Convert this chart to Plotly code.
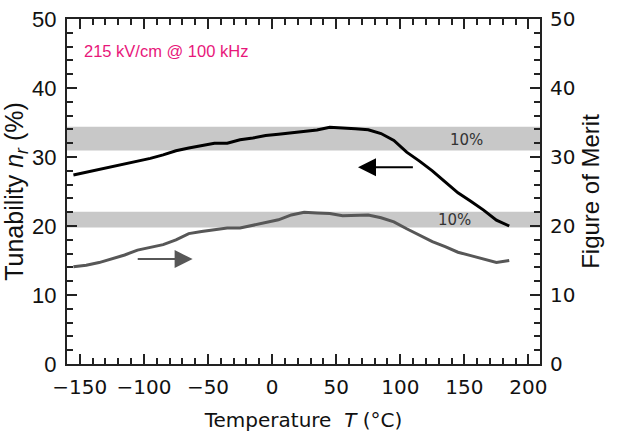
import plotly.graph_objects as go

# Data
temperature = [-155, -145, -135, -125, -115, -105, -95, -85, -75, -65, -55, -45, -35, -25, -15, -5,
               5, 15, 25, 35, 45, 55, 65, 75, 85, 95, 105, 115, 125, 135, 145, 155, 165, 175, 185]
tunability = [27.4, 27.8, 28.2, 28.6, 28.9, 29.4, 29.8, 30.3, 30.9, 31.3, 31.6, 32.0, 32.0, 32.5, 32.75, 33.1,
              33.3, 33.5, 33.7, 33.9, 34.3, 34.25, 34.1, 33.95, 33.4, 32.4, 30.7, 29.4, 28.0, 26.4, 24.8, 23.6, 22.3, 20.85, 20.0]
fom = [14.1, 14.3, 14.7, 15.2, 15.8, 16.5, 16.9, 17.3, 18.0, 18.9, 19.2, 19.4, 19.7, 19.7, 20.1, 20.4,
       20.9, 21.6, 22.0, 21.9, 21.8, 21.5, 21.6, 21.6, 21.2, 20.6, 19.6, 18.7, 17.75, 17.0, 16.2, 15.7, 15.2, 14.7, 15.0]

band_tun = [30.96, 34.4]
band_fom = [19.8, 22.05]
band_label = "10%"
condition = "215 kV/cm @ 100 kHz"

x_range = [-160, 209]
y_range = [0, 50]
x_ticks = [-150, -100, -50, 0, 50, 100, 150, 200]
x_ticktext = ["\u2212150", "\u2212100", "\u221250", "0", "50", "100", "150", "200"]
y_ticks = [0, 10, 20, 30, 40, 50]

fig = go.Figure()

# 10% bands
for lo, hi in (band_tun, band_fom):
    fig.add_shape(type="rect", xref="paper", yref="y", x0=0, x1=1, y0=lo, y1=hi,
                  fillcolor="#c8c8c8", line_width=0, layer="below")

fig.add_trace(go.Scatter(x=temperature, y=tunability, mode="lines",
                         line=dict(color="#000000", width=3), name="Tunability", showlegend=False))
fig.add_trace(go.Scatter(x=temperature, y=fom, mode="lines", yaxis="y2",
                         line=dict(color="#575757", width=3), name="Figure of Merit", showlegend=False))

axis_common = dict(showline=True, linecolor="#222222", linewidth=2, showgrid=False, zeroline=False,
                   ticks="inside", ticklen=10, tickwidth=1.5, tickcolor="#222222", automargin=False,
                   ticklabeloverflow="allow")

fig.update_layout(
    width=626, height=441,
    margin=dict(l=67, r=86, t=19, b=77),
    paper_bgcolor="white", plot_bgcolor="white",
    xaxis=dict(range=x_range, tickvals=x_ticks, ticktext=x_ticktext, mirror="ticks",
               tickfont=dict(family="DejaVu Sans", size=20, color="#111111"),
               minor=dict(ticks="inside", ticklen=6, dtick=10, tickwidth=1.5, tickcolor="#222222"),
               title=dict(text="Temperature  <i>T</i> (°C)", font=dict(family="DejaVu Sans", size=20, color="#111111"),
                          standoff=15),
               ticklabelstandoff=4,
               **axis_common),
    yaxis=dict(range=y_range, tickvals=y_ticks,
               tickfont=dict(family="Liberation Sans", size=22, color="#111111"),
               minor=dict(ticks="inside", ticklen=6, dtick=2, tickwidth=1.5, tickcolor="#222222"),
               title=dict(text="Tunability <i>n<sub>r</sub></i> (%)", font=dict(family="Liberation Sans", size=25, color="#111111"),
                          standoff=4),
               ticklabelstandoff=4,
               **axis_common),
    yaxis2=dict(range=y_range, tickvals=y_ticks, overlaying="y", side="right",
                tickfont=dict(family="DejaVu Sans", size=20, color="#111111"),
                minor=dict(ticks="inside", ticklen=6, dtick=2, tickwidth=1.5, tickcolor="#222222"),
                title=dict(text="Figure of Merit", font=dict(family="Liberation Sans", size=24, color="#111111"),
                           standoff=8),
                ticklabelstandoff=4,
                **axis_common),
)

# Arrows
fig.add_annotation(x=67, y=28.5, ax=111, ay=28.5, xref="x", yref="y", axref="x", ayref="y",
                   showarrow=True, arrowhead=2, arrowsize=1.8, arrowwidth=2, arrowcolor="#000000", text="")
fig.add_annotation(x=-62, y=15.2, ax=-106, ay=15.2, xref="x", yref="y", axref="x", ayref="y",
                   showarrow=True, arrowhead=2, arrowsize=1.8, arrowwidth=2, arrowcolor="#575757", text="")

# Band labels
fig.add_annotation(x=152, y=32.5, xref="x", yref="y", text=band_label, showarrow=False,
                   font=dict(family="DejaVu Sans", size=15, color="#333333"))
fig.add_annotation(x=142, y=20.9, xref="x", yref="y", text=band_label, showarrow=False,
                   font=dict(family="DejaVu Sans", size=15, color="#333333"))

# Condition label
fig.add_annotation(x=-148.5, y=45.4, xref="x", yref="y", xanchor="left", yanchor="middle",
                   text=condition, showarrow=False,
                   font=dict(family="Liberation Sans", size=16.5, color="#E8177A"))

fig.write_html("out.html", config={"displayModeBar": False},
               post_script="document.body.style.margin='0';")
